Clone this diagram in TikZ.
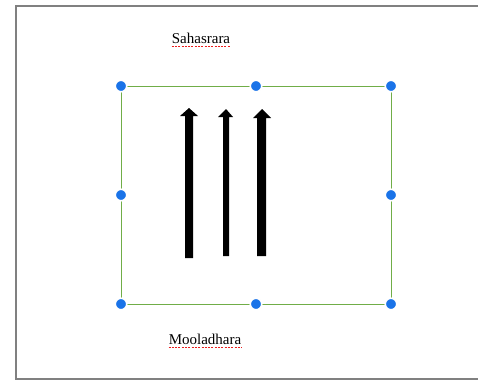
\documentclass[tikz,border=0pt]{standalone}
\usepackage{fontspec}
\setmainfont{Liberation Serif}
\definecolor{frame}{RGB}{128,128,128}
\definecolor{selgreen}{RGB}{112,173,71}
\definecolor{handle}{RGB}{26,115,232}
\definecolor{spell}{RGB}{235,30,30}
\begin{document}
\begin{tikzpicture}[x=1pt,y=-1pt,
  handledot/.style={circle,fill=handle,draw=white,line width=1.6pt,inner sep=0pt,minimum size=11.5pt},
  label/.style={font=\fontsize{15}{18}\selectfont,inner sep=0pt,anchor=base},
  uparrow/.style={fill=black},
  spellline/.style={spell,line width=1.3pt,dash pattern=on 2pt off 1.3pt}]
\useasboundingbox (0,0) rectangle (478,381);
\fill[white] (0,0) rectangle (478,381);
% outer frame (open on the right)
\draw[frame,line width=2.2pt] (490,6) -- (16,6) -- (16,379) -- (490,379);
% selection rectangle
\draw[selgreen,line width=1pt] (121,86) rectangle (391,304);
% arrows
\fill[uparrow] (185,258) -- (193,258) -- (193,116) -- (198,116) -- (189,108) -- (180,116) -- (185,116) -- cycle;
\fill[uparrow] (223,256) -- (229,256) -- (229,117) -- (233,117) -- (226,109) -- (218,117) -- (223,117) -- cycle;
\fill[uparrow] (257,256) -- (266,256) -- (266,118) -- (271,118) -- (262,109) -- (253,118) -- (257,118) -- cycle;
% labels
\node[label] (top) at (201,43) {Sahasrara};
\node[label] (bot) at (205,344) {Mooladhara};
\draw[spellline] ([yshift=-3.8pt]top.base west) -- ([yshift=-3.8pt]top.base east);
\draw[spellline] ([yshift=-3.8pt]bot.base west) -- ([yshift=-3.8pt]bot.base east);
% handles
\foreach \p [count=\i] in {(121,86),(256,86),(391,86),(121,195),(391,195),(121,304),(256,304),(391,304)}
  \node[handledot] (h\i) at \p {};
\end{tikzpicture}
\end{document}
